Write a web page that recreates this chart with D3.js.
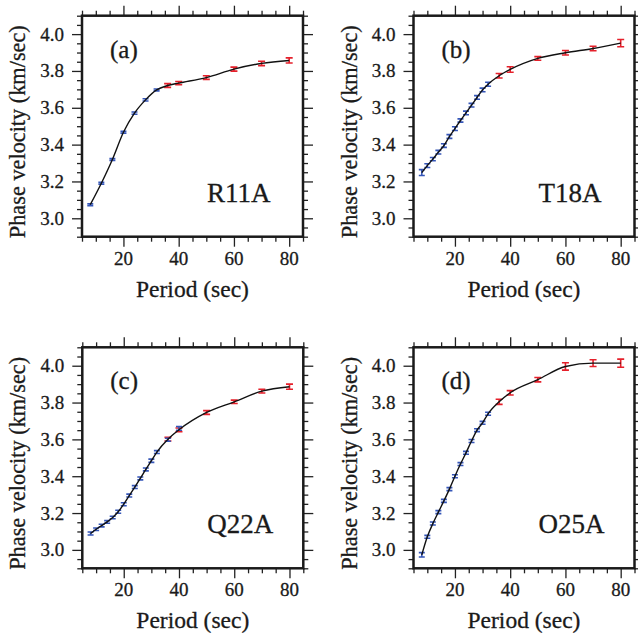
<!DOCTYPE html>
<html><head><meta charset="utf-8">
<script src="https://cdn.jsdelivr.net/npm/d3@7"></script>
<style>
html,body{margin:0;padding:0;background:#fff;}
svg{display:block;}
text{font-family:"Liberation Serif","Times New Roman",serif;fill:#1a1a1a;stroke:#1a1a1a;stroke-width:0.3px;}
</style></head>
<body><svg id="chart" width="638" height="633"></svg>
<script>
// ---- data ----
const panelLetters = ["(a)","(b)","(c)","(d)"];
const stations = ["R11A","T18A","Q22A","O25A"];
const xTickLabels = [20,40,60,80];
const yTickLabels = [3.0,3.2,3.4,3.6,3.8,4.0];
const xLabel = "Period (sec)";
const yLabel = "Phase velocity (km/sec)";

// R11A
const bluePeriodsA = [8,12,16,20,24,28,32];
const blueVelA = [3.074,3.190,3.319,3.467,3.571,3.643,3.697];
const blueErrA = [0.005,0.005,0.005,0.005,0.006,0.006,0.005];
const redPeriodsA = [36,40,50,60,70,80];
const redVelA = [3.721,3.734,3.764,3.810,3.841,3.857];
const redErrA = [0.010,0.009,0.010,0.011,0.012,0.014];

// T18A
const bluePeriodsB = [8,10,12,14,16,18,20,22,24,26,28,30,32];
const blueVelB = [3.248,3.286,3.321,3.359,3.395,3.444,3.487,3.531,3.572,3.614,3.656,3.697,3.728];
const blueErrB = [0.016,0.010,0.009,0.010,0.010,0.010,0.010,0.009,0.010,0.010,0.010,0.010,0.011];
const redPeriodsB = [36,40,50,60,70,80];
const redVelB = [3.774,3.808,3.868,3.899,3.922,3.951];
const redErrB = [0.012,0.015,0.010,0.012,0.012,0.020];

// Q22A
const bluePeriodsC = [8,10,12,14,16,18,20,22,24,26,28,30,32,36,40];
const blueVelC = [3.089,3.112,3.132,3.152,3.176,3.207,3.248,3.295,3.341,3.388,3.437,3.484,3.531,3.598,3.660];
const blueErrC = [0.008,0.007,0.007,0.007,0.007,0.008,0.008,0.008,0.008,0.008,0.008,0.009,0.008,0.008,0.010];
const redPeriodsC = [36,40,50,60,70,80];
const redVelC = [3.601,3.652,3.746,3.804,3.862,3.886];
const redErrC = [0.010,0.010,0.010,0.009,0.010,0.014];

// O25A
const bluePeriodsD = [8,10,12,14,16,18,20,22,24,26,28,30,32];
const blueVelD = [2.973,3.071,3.143,3.205,3.266,3.330,3.400,3.466,3.527,3.591,3.650,3.690,3.739];
const blueErrD = [0.012,0.008,0.008,0.008,0.008,0.008,0.008,0.008,0.008,0.008,0.008,0.008,0.008];
const redPeriodsD = [36,40,50,60,70,80];
const redVelD = [3.804,3.853,3.924,3.996,4.014,4.014];
const redErrD = [0.014,0.012,0.012,0.020,0.018,0.022];

const panels = [
  {bp:bluePeriodsA,bv:blueVelA,be:blueErrA,rp:redPeriodsA,rv:redVelA,re:redErrA},
  {bp:bluePeriodsB,bv:blueVelB,be:blueErrB,rp:redPeriodsB,rv:redVelB,re:redErrB},
  {bp:bluePeriodsC,bv:blueVelC,be:blueErrC,rp:redPeriodsC,rv:redVelC,re:redErrC},
  {bp:bluePeriodsD,bv:blueVelD,be:blueErrD,rp:redPeriodsD,rv:redVelD,re:redErrD}
];

// ---- layout ----
const frameLefts = [82, 413.5, 82.3, 413.5];
const frameTops = [15.7, 15.7, 347.3, 347.3];
const frameSize = 221;
const blueColor = "#3556b8";
const redColor = "#e5202b";

const svg = d3.select("#chart");

panels.forEach((p, i) => {
  const L = frameLefts[i], T = frameTops[i], S = frameSize;
  const x = d3.scaleLinear().domain([5,85]).range([L, L+S]);
  const y = d3.scaleLinear().domain([2.9,4.1]).range([T+S, T]);
  const g = svg.append("g");

  const xTicksAll = d3.range(5, 85.001, 5);
  const yTicksAll = d3.range(0, 25).map(k => +(2.9 + k*0.05).toFixed(2));
  const isMajX = v => v % 20 === 0;
  const isMajY = v => Math.abs(Math.round(v*10) % 2) === 0 && Math.abs(v*10 - Math.round(v*10)) < 1e-6 && v>2.95 && v<4.05;

  const mk = (axisFn, scale, ticks, majFn) => {
    const a = g.append("g");
    ticks.forEach(v => {
      const len = majFn(v) ? 10 : 5;
      const sel = a.append("g");
      sel.call(axisFn(scale).tickValues([v]).tickSize(len).tickFormat(""));
      sel.select(".domain").remove();
      sel.selectAll(".tick line").attr("stroke","#222").attr("stroke-width",1.3);
    });
    return a;
  };
  mk(d3.axisBottom, x, xTicksAll, isMajX).attr("transform",`translate(0,${T+S})`);
  mk(d3.axisTop, x, xTicksAll, isMajX).attr("transform",`translate(0,${T})`);
  mk(d3.axisLeft, y, yTicksAll, isMajY).attr("transform",`translate(${L},0)`);
  mk(d3.axisRight, y, yTicksAll, isMajY).attr("transform",`translate(${L+S},0)`);

  // tick labels
  g.selectAll(".xl").data(xTickLabels).join("text")
    .attr("x", d => x(d)).attr("y", T+S+28)
    .attr("text-anchor","middle").attr("font-size",19).text(d => d);
  g.selectAll(".yl").data(yTickLabels).join("text")
    .attr("x", L-18).attr("y", d => y(d)+6.5)
    .attr("text-anchor","end").attr("font-size",19).text(d => d3.format(".1f")(d));

  // axis titles
  g.append("text").attr("x", L+S/2).attr("y", T+S+60)
    .attr("text-anchor","middle").attr("font-size",23.5).text(xLabel);
  g.append("text").attr("transform",`translate(${L-57},${T+116}) rotate(-90)`)
    .attr("text-anchor","middle").attr("font-size",22.3).text(yLabel);

  // error bars
  const drawBars = (periods, vals, errs, color, cap) => {
    const d = periods.map((pp,k) => ({p:pp, v:vals[k], e:errs[k]}));
    const eg = g.append("g").attr("stroke", color).attr("stroke-width",1.6).attr("fill","none");
    eg.selectAll("path").data(d).join("path")
      .attr("d", o => {
        const cx = x(o.p), y1 = y(o.v+o.e), y2 = y(o.v-o.e);
        return `M${cx-cap},${y1}H${cx+cap}M${cx},${y1}V${y2}M${cx-cap},${y2}H${cx+cap}`;
      });
  };
  drawBars(p.rp, p.rv, p.re, redColor, 3.5);
  drawBars(p.bp, p.bv, p.be, blueColor, 3);

  // curve
  const linePts = p.bp.map((pp,k)=>[pp,p.bv[k]]).filter(o=>o[0]<p.rp[0])
    .concat(p.rp.map((pp,k)=>[pp,p.rv[k]]));
  g.append("path").datum(linePts)
    .attr("fill","none").attr("stroke","#111").attr("stroke-width",1.4)
    .attr("d", d3.line().x(o=>x(o[0])).y(o=>y(o[1])).curve(d3.curveMonotoneX));

  // frame
  g.append("rect").attr("x",L).attr("y",T).attr("width",S).attr("height",S)
    .attr("fill","none").attr("stroke","#1a1a1a").attr("stroke-width",2.5);

  // labels
  g.append("text").attr("x", L+28).attr("y", T+42).attr("font-size",25).text(panelLetters[i]);
  g.append("text").attr("x", L+125).attr("y", T+S-35).attr("font-size",27).text(stations[i]);
});
</script></body></html>
